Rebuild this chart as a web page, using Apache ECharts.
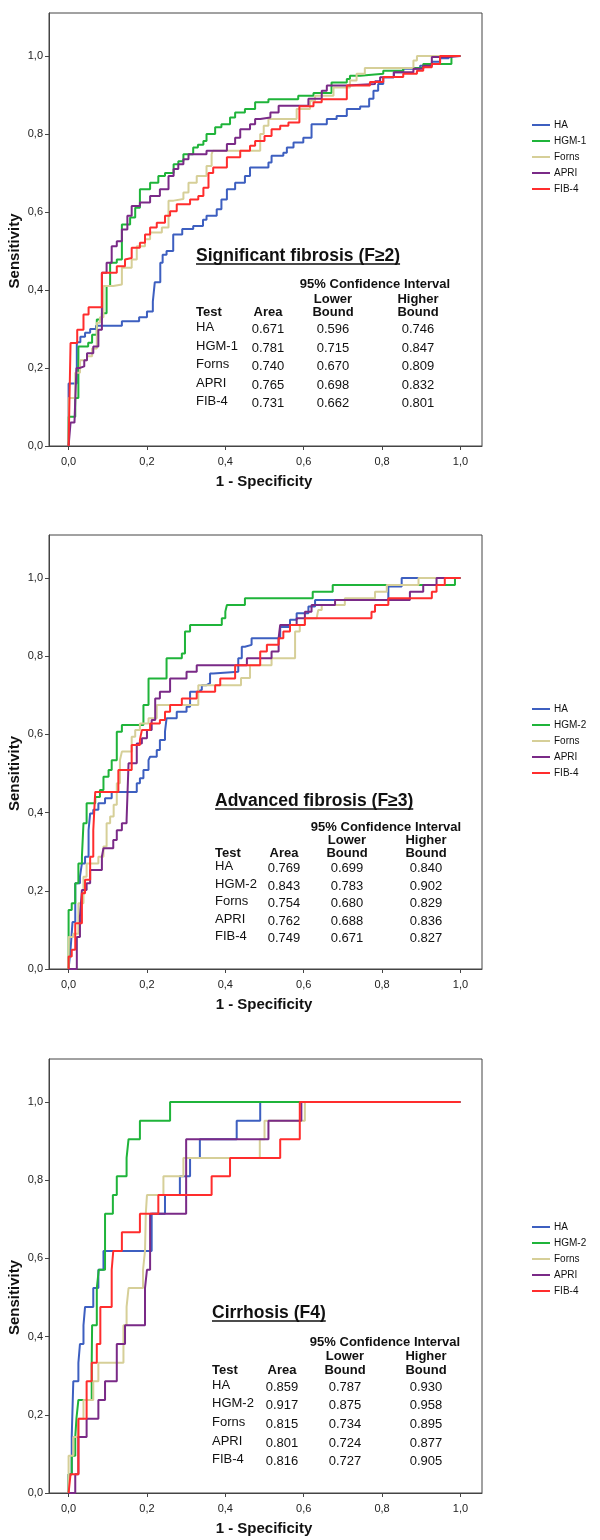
<!DOCTYPE html>
<html><head><meta charset="utf-8">
<script src="https://cdn.jsdelivr.net/npm/echarts@6/dist/echarts.min.js"></script>
<style>html,body{margin:0;padding:0;background:#fff}#c{width:600px;height:1540px}</style>
</head><body><div id="c"></div>
<script>
// ---------- data ----------
const tickValues = [0, 0.2, 0.4, 0.6, 0.8, 1.0];
const xAxisTitle = '1 - Specificity';
const yAxisTitle = 'Sensitivity';
const panelTitles = ['Significant fibrosis (F≥2)', 'Advanced fibrosis (F≥3)', 'Cirrhosis (F4)'];
const ciHeader = '95% Confidence Interval';

const tests1 = ['HA', 'HGM-1', 'Forns', 'APRI', 'FIB-4'];
const area1 = ['0.671', '0.781', '0.740', '0.765', '0.731'];
const lower1 = ['0.596', '0.715', '0.670', '0.698', '0.662'];
const higher1 = ['0.746', '0.847', '0.809', '0.832', '0.801'];

const tests2 = ['HA', 'HGM-2', 'Forns', 'APRI', 'FIB-4'];
const area2 = ['0.769', '0.843', '0.754', '0.762', '0.749'];
const lower2 = ['0.699', '0.783', '0.680', '0.688', '0.671'];
const higher2 = ['0.840', '0.902', '0.829', '0.836', '0.827'];

const tests3 = ['HA', 'HGM-2', 'Forns', 'APRI', 'FIB-4'];
const area3 = ['0.859', '0.917', '0.815', '0.801', '0.816'];
const lower3 = ['0.787', '0.875', '0.734', '0.724', '0.727'];
const higher3 = ['0.930', '0.958', '0.895', '0.877', '0.905'];

// ROC step curves: [1 - specificity, sensitivity] after each rise
const p1HA = [[0,0],[0,0.16],[0.021,0.266],[0.03,0.28],[0.042,0.29],[0.055,0.30],[0.07,0.308],[0.136,0.32],[0.18,0.33],[0.2,0.345],[0.215,0.37],[0.22,0.42],[0.234,0.47],[0.24,0.49],[0.25,0.50],[0.267,0.542],[0.29,0.556],[0.318,0.564],[0.343,0.58],[0.352,0.59],[0.378,0.607],[0.39,0.632],[0.404,0.658],[0.425,0.675],[0.45,0.692],[0.463,0.714],[0.51,0.727],[0.518,0.744],[0.548,0.752],[0.557,0.765],[0.574,0.778],[0.599,0.79],[0.62,0.825],[0.659,0.838],[0.684,0.846],[0.71,0.864],[0.744,0.87],[0.767,0.89],[0.778,0.911],[0.79,0.928],[0.803,0.945],[0.83,0.958],[0.854,0.967],[0.897,0.975],[0.927,0.985],[0.948,0.994],[0.97,1.0],[1,1]];
const p1HGM = [[0,0],[0,0.075],[0.017,0.123],[0.025,0.255],[0.05,0.265],[0.06,0.285],[0.072,0.324],[0.085,0.34],[0.097,0.41],[0.106,0.47],[0.123,0.478],[0.136,0.568],[0.157,0.586],[0.17,0.611],[0.182,0.658],[0.208,0.675],[0.229,0.692],[0.246,0.70],[0.268,0.722],[0.28,0.73],[0.293,0.748],[0.318,0.765],[0.33,0.772],[0.344,0.782],[0.352,0.80],[0.374,0.817],[0.39,0.825],[0.412,0.842],[0.425,0.855],[0.45,0.864],[0.476,0.881],[0.51,0.889],[0.586,0.898],[0.625,0.905],[0.671,0.932],[0.71,0.941],[0.718,0.949],[0.744,0.954],[0.803,0.962],[0.854,0.969],[0.905,0.979],[0.977,1.0],[1,1]];
const p1Forns = [[0,0],[0,0.123],[0.017,0.188],[0.029,0.22],[0.047,0.23],[0.06,0.25],[0.072,0.316],[0.08,0.33],[0.089,0.41],[0.114,0.414],[0.136,0.457],[0.161,0.478],[0.174,0.512],[0.195,0.53],[0.208,0.547],[0.238,0.56],[0.255,0.629],[0.268,0.633],[0.293,0.65],[0.306,0.675],[0.327,0.692],[0.352,0.718],[0.365,0.748],[0.368,0.757],[0.489,0.80],[0.498,0.821],[0.51,0.838],[0.582,0.864],[0.616,0.885],[0.629,0.898],[0.676,0.919],[0.718,0.937],[0.735,0.954],[0.756,0.969],[0.88,0.988],[0.889,1.0],[1,1]];
const p1APRI = [[0,0],[0.005,0.06],[0.015,0.065],[0.02,0.2],[0.028,0.204],[0.04,0.22],[0.047,0.238],[0.063,0.255],[0.076,0.298],[0.085,0.444],[0.097,0.47],[0.11,0.512],[0.123,0.525],[0.136,0.555],[0.15,0.59],[0.161,0.615],[0.182,0.624],[0.208,0.641],[0.233,0.658],[0.255,0.692],[0.268,0.71],[0.28,0.722],[0.293,0.735],[0.306,0.748],[0.352,0.757],[0.404,0.774],[0.425,0.79],[0.438,0.812],[0.463,0.825],[0.476,0.838],[0.489,0.842],[0.515,0.855],[0.536,0.872],[0.612,0.89],[0.646,0.911],[0.659,0.924],[0.71,0.928],[0.782,0.935],[0.795,0.945],[0.83,0.958],[0.88,0.967],[0.905,0.975],[0.927,0.997],[0.973,1.0],[1,1]];
const p1FIB = [[0,0],[0.005,0.264],[0.022,0.298],[0.038,0.337],[0.051,0.356],[0.085,0.444],[0.123,0.461],[0.144,0.478],[0.148,0.482],[0.161,0.508],[0.182,0.521],[0.195,0.542],[0.208,0.56],[0.225,0.572],[0.246,0.59],[0.259,0.602],[0.276,0.62],[0.31,0.632],[0.331,0.641],[0.344,0.662],[0.357,0.70],[0.369,0.714],[0.404,0.74],[0.438,0.757],[0.463,0.77],[0.476,0.782],[0.5,0.795],[0.518,0.812],[0.54,0.821],[0.561,0.829],[0.589,0.871],[0.625,0.881],[0.646,0.889],[0.71,0.924],[0.769,0.933],[0.803,0.946],[0.854,0.954],[0.889,0.962],[0.905,0.971],[0.927,0.979],[0.948,1.0],[1,1]];

const p2HA = [[0,0],[0.005,0.05],[0.01,0.12],[0.017,0.219],[0.029,0.236],[0.034,0.27],[0.042,0.287],[0.051,0.355],[0.055,0.398],[0.063,0.407],[0.076,0.424],[0.093,0.437],[0.11,0.453],[0.174,0.475],[0.182,0.488],[0.191,0.509],[0.204,0.534],[0.208,0.543],[0.225,0.56],[0.233,0.586],[0.246,0.607],[0.25,0.641],[0.276,0.658],[0.301,0.671],[0.31,0.709],[0.327,0.714],[0.34,0.726],[0.352,0.731],[0.361,0.756],[0.369,0.76],[0.433,0.795],[0.442,0.824],[0.45,0.829],[0.467,0.846],[0.54,0.875],[0.565,0.893],[0.582,0.91],[0.612,0.927],[0.629,0.944],[0.816,0.978],[0.85,1.0],[1,1]];
const p2HGM = [[0,0],[0,0.151],[0.008,0.168],[0.017,0.219],[0.025,0.27],[0.034,0.287],[0.038,0.373],[0.046,0.424],[0.068,0.44],[0.08,0.458],[0.089,0.492],[0.102,0.509],[0.11,0.534],[0.123,0.607],[0.136,0.624],[0.191,0.675],[0.204,0.743],[0.25,0.795],[0.289,0.807],[0.297,0.863],[0.31,0.88],[0.391,0.897],[0.4,0.914],[0.404,0.931],[0.45,0.948],[0.623,0.965],[0.674,0.982],[0.986,1.0],[1,1]];
const p2Forns = [[0,0],[0,0.082],[0.012,0.09],[0.025,0.168],[0.038,0.236],[0.046,0.27],[0.076,0.287],[0.089,0.313],[0.097,0.373],[0.106,0.39],[0.115,0.42],[0.123,0.475],[0.131,0.534],[0.136,0.556],[0.161,0.594],[0.17,0.611],[0.182,0.628],[0.204,0.641],[0.225,0.675],[0.331,0.726],[0.44,0.744],[0.463,0.777],[0.518,0.795],[0.578,0.863],[0.59,0.88],[0.603,0.897],[0.633,0.901],[0.637,0.918],[0.646,0.931],[0.705,0.948],[0.782,0.965],[0.812,0.982],[0.893,1.0],[1,1]];
const p2APRI = [[0,0],[0.021,0.082],[0.029,0.134],[0.034,0.202],[0.046,0.219],[0.055,0.253],[0.085,0.287],[0.089,0.309],[0.114,0.33],[0.123,0.355],[0.136,0.373],[0.148,0.381],[0.153,0.526],[0.174,0.577],[0.187,0.59],[0.2,0.611],[0.212,0.637],[0.221,0.692],[0.233,0.709],[0.259,0.743],[0.301,0.76],[0.327,0.777],[0.455,0.795],[0.518,0.812],[0.536,0.846],[0.54,0.88],[0.582,0.897],[0.603,0.914],[0.62,0.931],[0.68,0.944],[0.871,0.965],[0.905,0.982],[0.939,1.0],[1,1]];
const p2FIB = [[0,0],[0,0.032],[0.008,0.049],[0.017,0.117],[0.034,0.194],[0.042,0.228],[0.055,0.287],[0.063,0.355],[0.068,0.453],[0.127,0.509],[0.161,0.573],[0.182,0.586],[0.187,0.611],[0.208,0.628],[0.233,0.637],[0.246,0.658],[0.259,0.675],[0.289,0.692],[0.327,0.709],[0.374,0.726],[0.387,0.743],[0.425,0.777],[0.489,0.812],[0.506,0.829],[0.536,0.846],[0.548,0.863],[0.565,0.88],[0.603,0.897],[0.773,0.914],[0.782,0.931],[0.816,0.948],[0.927,0.965],[0.939,0.982],[0.96,1.0],[1,1]];

const p3HA = [[0,0],[0,0.048],[0.008,0.143],[0.012,0.286],[0.025,0.333],[0.029,0.381],[0.038,0.429],[0.042,0.476],[0.063,0.524],[0.076,0.571],[0.089,0.619],[0.212,0.714],[0.246,0.762],[0.284,0.810],[0.31,0.857],[0.335,0.905],[0.429,0.952],[0.489,1.0],[1,1]];
const p3HGM = [[0,0],[0,0.048],[0.008,0.095],[0.017,0.143],[0.02,0.190],[0.025,0.238],[0.059,0.333],[0.06,0.429],[0.072,0.524],[0.077,0.571],[0.093,0.714],[0.113,0.762],[0.123,0.810],[0.148,0.857],[0.153,0.905],[0.182,0.952],[0.259,1.0],[1,1]];
const p3Forns = [[0,0],[0,0.095],[0.012,0.143],[0.025,0.190],[0.038,0.238],[0.063,0.286],[0.076,0.333],[0.14,0.429],[0.148,0.476],[0.153,0.524],[0.19,0.571],[0.195,0.619],[0.197,0.714],[0.2,0.762],[0.242,0.810],[0.293,0.857],[0.488,0.905],[0.5,0.952],[0.603,1.0],[1,1]];
const p3APRI = [[0,0],[0.017,0.048],[0.025,0.143],[0.046,0.190],[0.076,0.238],[0.093,0.286],[0.123,0.381],[0.144,0.429],[0.195,0.524],[0.2,0.571],[0.208,0.714],[0.3,0.905],[0.51,0.952],[0.594,1.0],[1,1]];
const p3FIB = [[0,0],[0.005,0.048],[0.025,0.190],[0.046,0.286],[0.059,0.333],[0.072,0.381],[0.081,0.476],[0.11,0.571],[0.114,0.619],[0.136,0.667],[0.182,0.714],[0.229,0.762],[0.365,0.810],[0.412,0.857],[0.54,0.905],[0.59,1.0],[1,1]];

// ---------- presentation ----------
const FONT = '"Liberation Sans", Arial, Helvetica, sans-serif';
const colors = ['#3d5fc0', '#1fb43a', '#d6cf98', '#7a2a87', '#ff2d2d'];

const panels = [
  { tests: tests1, area: area1, lower: lower1, higher: higher1, curves: [p1HA, p1HGM, p1Forns, p1APRI, p1FIB],
    top: 13, height: 433, legendTop: 114,
    t: { titleX: 196, titleY: 256, ciX: 375, ciY: 284, lowY: 299, boundY: 312, rows: [329, 348, 366, 385, 403],
         testX: 196, areaX: 268, lowerX: 333, higherX: 418 } },
  { tests: tests2, area: area2, lower: lower2, higher: higher2, curves: [p2HA, p2HGM, p2Forns, p2APRI, p2FIB],
    top: 535, height: 434, legendTop: 698,
    t: { titleX: 215, titleY: 801, ciX: 386, ciY: 827, lowY: 840, boundY: 853, rows: [868, 886, 903, 921, 938],
         testX: 215, areaX: 284, lowerX: 347, higherX: 426 } },
  { tests: tests3, area: area3, lower: lower3, higher: higher3, curves: [p3HA, p3HGM, p3Forns, p3APRI, p3FIB],
    top: 1059, height: 434, legendTop: 1216,
    t: { titleX: 212, titleY: 1313, ciX: 385, ciY: 1342, lowY: 1356, boundY: 1370, rows: [1387, 1405, 1424, 1443, 1461],
         testX: 212, areaX: 282, lowerX: 345, higherX: 426 } }
];

const GL = 49, GW = 433;
const fmt = v => v.toFixed(1).replace('.', ',');

const measure = (() => {
  const ctx = document.createElement('canvas').getContext('2d');
  return (s, font) => { ctx.font = font; return ctx.measureText(s).width; };
})();

const grids = [], xAxes = [], yAxes = [], series = [], legends = [], graphics = [];

function text(x, y, s, size, weight, align) {
  return { type: 'text', x: x, y: y, silent: true,
    style: { text: s, fontSize: size, fontWeight: weight, fontFamily: FONT, fill: '#111',
             align: align, verticalAlign: 'middle' } };
}

panels.forEach((p, i) => {
  grids.push({ left: GL, width: GW, top: p.top, height: p.height, show: true,
               borderColor: '#444', borderWidth: 1, backgroundColor: '#fff' });
  xAxes.push({ type: 'value', gridIndex: i, min: -0.05, max: 1.055,
    axisLine: { show: true, onZero: false, lineStyle: { color: '#444', width: 1 } },
    axisTick: { show: true, inside: false, length: 4, customValues: tickValues, lineStyle: { color: '#444' } },
    axisLabel: { customValues: tickValues, formatter: fmt, fontSize: 11, color: '#222', fontFamily: FONT, margin: 10 },
    splitLine: { show: false } });
  yAxes.push({ type: 'value', gridIndex: i, min: 0, max: 1.11,
    axisLine: { show: true, onZero: false, lineStyle: { color: '#444', width: 1 } },
    axisTick: { show: true, inside: false, length: 4, customValues: tickValues, lineStyle: { color: '#444' } },
    axisLabel: { customValues: tickValues, formatter: fmt, fontSize: 11, color: '#222', fontFamily: FONT, margin: 6 },
    splitLine: { show: false } });
  p.curves.forEach((d, k) => {
    series.push({ type: 'line', name: p.tests[k], xAxisIndex: i, yAxisIndex: i, data: d, step: 'end',
      symbol: 'none', showSymbol: false, color: colors[k], lineStyle: { width: 2, color: colors[k] },
      animation: false, z: 2 + k });
  });
  legends.push({ data: p.tests, orient: 'vertical', left: 527, top: p.legendTop, icon: 'rect',
    itemWidth: 18, itemHeight: 2, itemGap: 4, selectedMode: false,
    textStyle: { fontSize: 10, lineHeight: 12, color: '#111', fontFamily: FONT, padding: [0, 0, 0, -1] } });

  // axis titles
  const y0 = p.top + p.height;
  const y1 = y0 - p.height / 1.11;
  graphics.push(Object.assign(text(15, (y0 + y1) / 2, yAxisTitle, 15, 'bold', 'center'), { rotation: Math.PI / 2 }));
  graphics.push(text(264, y0 + 36, xAxisTitle, 15, 'bold', 'center'));

  // statistics table
  const t = p.t;
  const titleFont = 'bold 17.5px ' + FONT;
  graphics.push(text(t.titleX, t.titleY, panelTitles[i], 17.5, 'bold', 'left'));
  const w = measure(panelTitles[i], titleFont);
  graphics.push({ type: 'line', silent: true, shape: { x1: t.titleX, y1: t.titleY + 8, x2: t.titleX + w, y2: t.titleY + 8 },
                  style: { stroke: '#111', lineWidth: 1.3 } });
  graphics.push(text(t.ciX, t.ciY, ciHeader, 13, 'bold', 'center'));
  graphics.push(text(t.lowerX, t.lowY, 'Lower', 13, 'bold', 'center'));
  graphics.push(text(t.higherX, t.lowY, 'Higher', 13, 'bold', 'center'));
  graphics.push(text(t.testX, t.boundY, 'Test', 13, 'bold', 'left'));
  graphics.push(text(t.areaX, t.boundY, 'Area', 13, 'bold', 'center'));
  graphics.push(text(t.lowerX, t.boundY, 'Bound', 13, 'bold', 'center'));
  graphics.push(text(t.higherX, t.boundY, 'Bound', 13, 'bold', 'center'));
  t.rows.forEach((ry, r) => {
    graphics.push(text(t.testX, ry - 2, p.tests[r], 13, 'normal', 'left'));
    graphics.push(text(t.areaX, ry, p.area[r], 13, 'normal', 'center'));
    graphics.push(text(t.lowerX, ry, p.lower[r], 13, 'normal', 'center'));
    graphics.push(text(t.higherX, ry, p.higher[r], 13, 'normal', 'center'));
  });
});

const chart = echarts.init(document.getElementById('c'));
chart.setOption({
  animation: false,
  backgroundColor: '#fff',
  grid: grids, xAxis: xAxes, yAxis: yAxes, series: series, legend: legends,
  graphic: { elements: graphics }
});
</script>
</body></html>
